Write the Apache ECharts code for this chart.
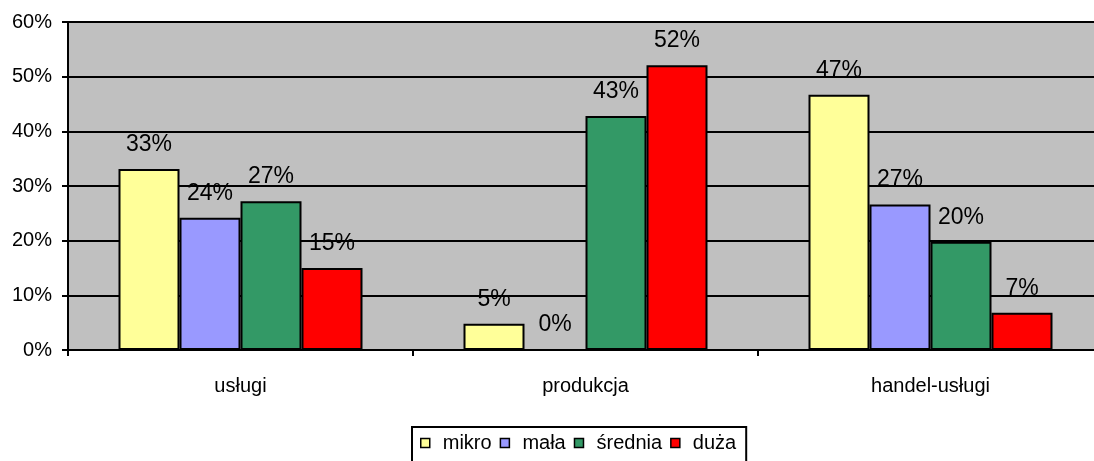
<!DOCTYPE html>
<html>
<head>
<meta charset="utf-8">
<script src="https://cdn.jsdelivr.net/npm/echarts@6/dist/echarts.min.js"></script>
<style>
  html, body { margin: 0; padding: 0; background: #fff; }
  #chart { width: 1094px; height: 461px; }
</style>
</head>
<body>
<div id="chart"></div>
<script>
var categories = ['usługi', 'produkcja', 'handel-usługi'];
var seriesNames = ['mikro', 'mała', 'średnia', 'duża'];
var mikro = [33.1, 4.8, 46.7];
var mala = [24.2, 0, 26.6];
var srednia = [27.2, 42.8, 19.8];
var duza = [15.0, 52.1, 6.8];
var colors = ['#FFFF99', '#9999FF', '#339966', '#FF0000'];

var font = 'Arial, "Liberation Sans", sans-serif';
var chart = echarts.init(document.getElementById('chart'));

function makeSeries(name, data, color) {
    return {
        name: name,
        type: 'bar',
        data: data,
        barWidth: 61,
        barGap: '0%',
        itemStyle: { color: color, borderColor: '#000', borderWidth: 2 },
        label: {
            show: true,
            position: 'top',
            distance: 13,
            color: '#000',
            fontFamily: font,
            fontSize: 23,
            formatter: function (p) { return Math.round(p.value) + '%'; }
        }
    };
}

var option = {
    animation: false,
    color: colors,
    grid: {
        left: 68, top: 22, width: 1035, bottom: 111,
        outerBoundsMode: 'none',
        show: true,
        backgroundColor: '#C0C0C0',
        borderColor: '#808080',
        borderWidth: 2
    },
    legend: {
        data: seriesNames.map(function (n, i) {
            return { name: n, itemStyle: { color: colors[i], borderColor: '#000', borderWidth: 1.5 } };
        }),
        left: 412,
        top: 427,
        icon: 'rect',
        itemWidth: 9,
        itemHeight: 9,
        itemGap: 8,
        padding: [6, 10, 12, 8],
        borderColor: '#000',
        borderWidth: 2,
        textStyle: { color: '#000', fontFamily: font, fontSize: 20, padding: [0, 0, 0, 8] }
    },
    xAxis: {
        type: 'category',
        data: categories,
        axisLine: { lineStyle: { color: '#000', width: 2 } },
        axisTick: { show: true, length: 6, lineStyle: { color: '#000', width: 2 } },
        axisLabel: { color: '#000', fontFamily: font, fontSize: 20, margin: 26 }
    },
    yAxis: {
        type: 'value',
        min: 0,
        max: 60,
        interval: 10,
        axisLine: { show: true, lineStyle: { color: '#000', width: 2 } },
        axisTick: { show: true, length: 6, lineStyle: { color: '#000', width: 2 } },
        splitLine: { lineStyle: { color: '#000', width: 2 } },
        axisLabel: { color: '#000', fontFamily: font, fontSize: 20, margin: 16, formatter: '{value}%' }
    },
    series: [
        makeSeries(seriesNames[0], mikro, colors[0]),
        makeSeries(seriesNames[1], mala, colors[1]),
        makeSeries(seriesNames[2], srednia, colors[2]),
        makeSeries(seriesNames[3], duza, colors[3])
    ]
};
chart.setOption(option);
</script>
</body>
</html>
